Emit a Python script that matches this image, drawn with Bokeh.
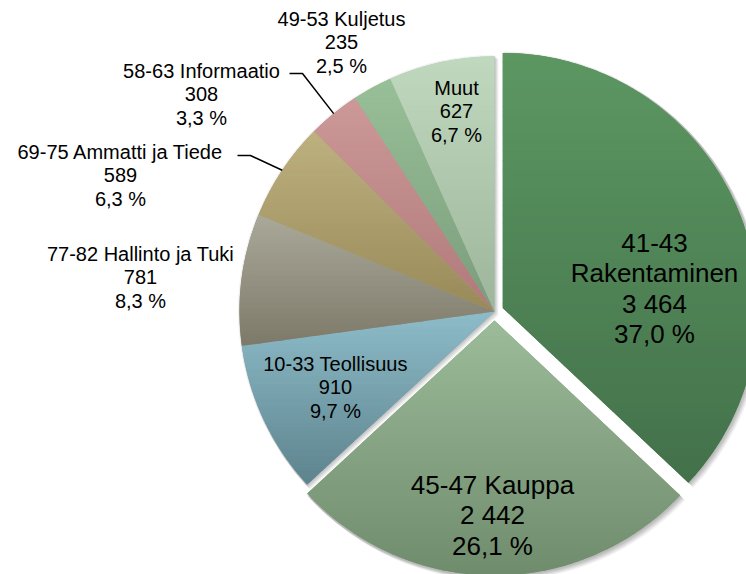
import numpy as np
from bokeh.plotting import figure
from bokeh.models import Range1d
from bokeh.core.properties import value
from bokeh.embed import file_html
from bokeh.resources import INLINE

# ---------------- data ----------------
categories = ["41-43 Rakentaminen", "45-47 Kauppa", "10-33 Teollisuus",
              "77-82 Hallinto ja Tuki", "69-75 Ammatti ja Tiede",
              "58-63 Informaatio", "49-53 Kuljetus", "Muut"]
label_titles = ["41-43\nRakentaminen", "45-47 Kauppa", "10-33 Teollisuus",
                "77-82 Hallinto ja Tuki", "69-75 Ammatti ja Tiede",
                "58-63 Informaatio", "49-53 Kuljetus", "Muut"]
counts = [3464, 2442, 910, 781, 589, 308, 235, 627]

# ---------------- styles / layout ----------------
top_colors = ["#5c9762", "#9cbc99", "#8dbcc9", "#aaa999", "#bdb17f",
              "#cd9898", "#98c098", "#c0d9be"]
bottom_colors = ["#43714a", "#6f8b6c", "#5d838d", "#7d796a", "#988a58",
                 "#b07a7a", "#7a9c7b", "#9db59b"]
explode = [9, 9, 0, 0, 0, 0, 0, 0]
W, H = 746, 574
CX, CY_S, R = 494, 311, 255
# label block centres (screen px)
label_pos = [(654, 288), (492, 515), (335, 387), (140, 277), (120, 175),
             (201, 94), (341, 42), (456, 111)]
label_big = [True, True, False, False, False, False, False, False]
leader_elbows = {5: [(289, 73), (302, 73)], 4: [(237, 155), (250, 155)]}


def Y(sy):
    return H - sy


CY = Y(CY_S)
total = float(sum(counts))
fracs = np.array(counts) / total
cum = np.concatenate([[0], np.cumsum(fracs)])
# clockwise from 12 o'clock
start_deg = 90 - 360 * cum[:-1]
end_deg = 90 - 360 * cum[1:]
mid_deg = (start_deg + end_deg) / 2
start_rad = list(np.radians(end_deg))   # anticlockwise start
end_rad = list(np.radians(start_deg))


def hex2rgb(h):
    h = h.lstrip("#")
    return np.array([int(h[i:i + 2], 16) for i in (0, 2, 4)], float)


def rgb2hex(c):
    c = np.clip(np.round(c), 0, 255).astype(int)
    return "#%02x%02x%02x" % tuple(c)


def clip(poly, y0, keep_above):
    out = []
    n = len(poly)
    for i in range(n):
        P = poly[i]
        Q = poly[(i + 1) % n]
        inP = P[1] >= y0 if keep_above else P[1] <= y0
        inQ = Q[1] >= y0 if keep_above else Q[1] <= y0
        if inP:
            out.append(P)
        if inP != inQ:
            t = (y0 - P[1]) / (Q[1] - P[1])
            out.append((P[0] + t * (Q[0] - P[0]), y0))
    return out


p = figure(width=W, height=H, output_backend="svg", toolbar_location=None,
           x_range=Range1d(0, W), y_range=Range1d(0, H),
           min_border=0, outline_line_color=None, background_fill_color="white")
p.axis.visible = False
p.xgrid.visible = False
p.ygrid.visible = False

# slice centres (with explode)
cxs = [CX + e * np.cos(np.radians(m)) for e, m in zip(explode, mid_deg)]
cys = [CY + e * np.sin(np.radians(m)) for e, m in zip(explode, mid_deg)]

# soft shadow
for (dx, dy, a) in [(1, -1, 0.07), (2, -2, 0.07), (3, -3, 0.06),
                    (4, -4, 0.05), (0, 0, 0.05)]:
    p.wedge(x=[c + dx for c in cxs], y=[c + dy for c in cys], radius=R + 1.5,
            start_angle=start_rad, end_angle=end_rad,
            fill_color="black", fill_alpha=a, line_color=None)

# base wedges (mid colour)
mid_colors = [rgb2hex((hex2rgb(a) + hex2rgb(b)) / 2) for a, b in zip(top_colors, bottom_colors)]
p.wedge(x=cxs, y=cys, radius=R, start_angle=start_rad, end_angle=end_rad,
        fill_color=mid_colors, line_color=None)

# vertical gradient overlay per slice
xs_all, ys_all, cols_all = [], [], []
NB = 48
for i in range(len(counts)):
    a = np.radians(np.linspace(start_deg[i], end_deg[i], 120))
    poly = [(cxs[i], cys[i])] + [(cxs[i] + R * np.cos(t), cys[i] + R * np.sin(t)) for t in a]
    ytop = max(q[1] for q in poly)
    ybot = min(q[1] for q in poly)
    edges = np.linspace(ybot, ytop, NB + 1)
    ct, cb = hex2rgb(top_colors[i]), hex2rgb(bottom_colors[i])
    for j in range(NB):
        y0, y1 = edges[j], edges[j + 1]
        band = clip(clip(poly, y0 - 0.3, True), y1 + 0.3, False)
        if len(band) < 3:
            continue
        t = ((y0 + y1) / 2 - ybot) / (ytop - ybot)
        col = rgb2hex(cb + (ct - cb) * t)
        xs_all.append([q[0] for q in band])
        ys_all.append([q[1] for q in band])
        cols_all.append(col)
p.patches(xs=xs_all, ys=ys_all, fill_color=cols_all, line_color=None)

# leader lines
for i, elbow in leader_elbows.items():
    ex = cxs[i] + R * np.cos(np.radians(mid_deg[i]))
    ey = cys[i] + R * np.sin(np.radians(mid_deg[i]))
    lx = [q[0] for q in elbow] + [ex]
    ly = [Y(q[1]) for q in elbow] + [ey]
    p.line(lx, ly, line_color="black", line_width=1.5)


# labels
def fmt_count(v):
    return f"{v:,}".replace(",", " ")


def fmt_pct(v):
    return f"{100 * v / total:.1f}".replace(".", ",") + " %"


texts = [f"{t}\n{fmt_count(v)}\n{fmt_pct(v)}" for t, v in zip(label_titles, counts)]
for i, txt in enumerate(texts):
    big = label_big[i]
    p.text(x=[label_pos[i][0]], y=[Y(label_pos[i][1])], text=[txt],
           text_font=value("Liberation Sans"),
           text_font_size=value("26px" if big else "20px"),
           text_line_height=1.014 if big else 1.066,
           text_align="center", text_baseline="middle", text_color="black")

open("out.html", "w").write(file_html(p, INLINE))
